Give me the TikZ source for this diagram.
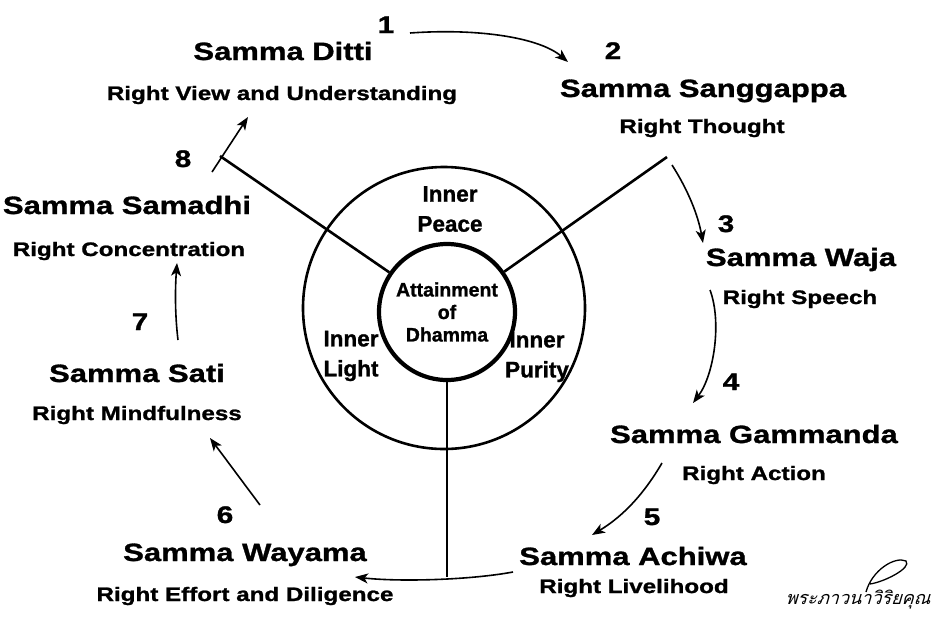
\documentclass[tikz,border=0pt]{standalone}
\usepackage{fontspec}
\setmainfont{Liberation Sans}[FakeStretch=1.24,BoldFeatures={FakeBold=1.2}]
\newfontfamily\ringfont{Liberation Sans}[BoldFeatures={FakeBold=1.2}]
\newfontfamily\thaifont[Script=Thai,FakeSlant=0.3]{Loma}
\usetikzlibrary{arrows.meta}

\begin{document}
\begin{tikzpicture}[x=1pt,y=-1pt,>={Stealth[length=13pt,width=10pt,inset=3.5pt]},
 title/.style={anchor=base,inner sep=0pt,font=\fontsize{25}{30}\selectfont\bfseries},
 gloss/.style={anchor=base,inner sep=0pt,font=\fontsize{19.5}{23}\selectfont\bfseries},
 num/.style={anchor=base,inner sep=0pt,font=\fontsize{24}{28}\selectfont\bfseries},
 ring/.style={align=center,inner sep=0pt,font=\ringfont\bfseries\fontsize{22.5}{30}\selectfont},
 flow/.style={->,line width=1.6pt},
 spoke/.style={line width=2.6pt}]
\useasboundingbox (0,0) rectangle (938,625);

% wheel
\node[circle,draw,line width=2.6pt,minimum size=282pt,inner sep=0pt] (outer) at (444,308) {};
\node[circle,draw,line width=4.2pt,minimum size=136pt,inner sep=0pt] (core) at (447,312) {};
\node[ring,font=\ringfont\bfseries\fontsize{19.5}{22.5}\selectfont] (attain) at (447,312) {Attainment\\of\\Dhamma};
\node[ring] (peace) at (450,209) {Inner\\Peace};
\node[ring] (light) at (351,356) {Inner\\Light};
\node[ring] (purity) at (537,357) {Inner\\Purity};
\coordinate (endL) at (220,156);
\coordinate (endR) at (667,157);
\coordinate (endB) at (447,577);
\draw[spoke] (core) -- (endL);
\draw[spoke] (core) -- (endR);
\draw[spoke] (core) -- (endB);

% the eight paths
\node[num] (n1) at (386,33) {1};
\node[title] (t1) at (283,60) {Samma Ditti};
\node[gloss] (g1) at (282,100) {Right View and Understanding};
\node[num] (n2) at (613,59) {2};
\node[title] (t2) at (703,97) {Samma Sanggappa};
\node[gloss] (g2) at (702,133) {Right Thought};
\node[num] (n3) at (726,232) {3};
\node[title] (t3) at (801,266) {Samma Waja};
\node[gloss] (g3) at (800,304) {Right Speech};
\node[num] (n4) at (731,390) {4};
\node[title] (t4) at (754,443) {Samma Gammanda};
\node[gloss] (g4) at (754,480) {Right Action};
\node[num] (n5) at (652,525) {5};
\node[title] (t5) at (633,565) {Samma Achiwa};
\node[gloss] (g5) at (634,593) {Right Livelihood};
\node[num] (n6) at (225,523) {6};
\node[title] (t6) at (245,561) {Samma Wayama};
\node[gloss] (g6) at (245,601) {Right Effort and Diligence};
\node[num] (n7) at (140,330) {7};
\node[title] (t7) at (137,382) {Samma Sati};
\node[gloss] (g7) at (137,420) {Right Mindfulness};
\node[num] (n8) at (183,167) {8};
\node[title] (t8) at (127,214) {Samma Samadhi};
\node[gloss] (g8) at (129,256) {Right Concentration};

% arrows between the steps
\coordinate (a1) at (410,33);  \coordinate (b1) at (568,62);
\coordinate (a2) at (672,165); \coordinate (b2) at (703,243);
\coordinate (a3) at (710,290); \coordinate (b3) at (693,403);
\coordinate (a4) at (662,463); \coordinate (b4) at (592,535);
\coordinate (a5) at (513,572); \coordinate (b5) at (355,577);
\coordinate (a6) at (260,505); \coordinate (b6) at (210,438);
\coordinate (a7) at (178,340); \coordinate (b7) at (177,263);
\coordinate (a8) at (212,172); \coordinate (b8) at (248,117);
\draw[flow] (a1) .. controls (480,28) and (540,38) .. (b1);
\draw[flow] (a2) .. controls (688,190) and (698,215) .. (b2);
\draw[flow] (a3) .. controls (722,322) and (714,375) .. (b3);
\draw[flow] (a4) .. controls (645,492) and (625,515) .. (b4);
\draw[flow] (a5) .. controls (470,580) and (400,582) .. (b5);
\draw[flow] (a6) .. controls (245,485) and (225,458) .. (b6);
\draw[flow] (a7) .. controls (175,315) and (175,290) .. (b7);
\draw[flow] (a8) -- (b8);

% signature
\node[anchor=base,inner sep=0pt,font=\thaifont\fontsize{18}{20}\selectfont] (sign) at (858,604) {พระภาวนาวิริยคุณ};
\draw[line width=1.3pt] (866,592) .. controls (872,570) and (895,556) .. (906,561) .. controls (912,568) and (884,582) .. (870,584);
\end{tikzpicture}
\end{document}
